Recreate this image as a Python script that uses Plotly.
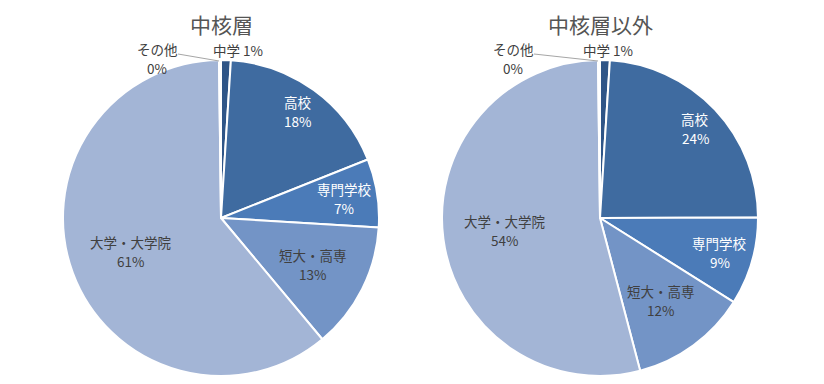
import math
import plotly.graph_objects as go

labels = ["中学", "高校", "専門学校", "短大・高専", "大学・大学院", "その他"]
core_values = [1, 18, 7, 13, 61, 0.2]
noncore_values = [1, 24, 9, 12, 54, 0.2]
titles = ["中核層", "中核層以外"]

# styles
colors = ["#2f5587", "#3f6ba0", "#4b7bb8", "#7394c6", "#a3b5d6", "#c9d4e8"]
text_colors = ["#404040", "#ffffff", "#ffffff", "#404040", "#404040", "#404040"]
label_radius = [None, 0.83, 0.79, 0.65, 0.61, None]   # fraction of radius for inside labels
FONT = "Noto Sans CJK JP"
W, H = 824, 384
domains_x = [[63 / W, 379 / W], [442 / W, 758 / W]]
domain_y = [1 - 376 / H, 1 - 60 / H]
chu_dx = [17, 8]          # 中学 label horizontal offset from pie centre (px)
other_dx = [-64, -87]     # その他 label horizontal offset from pie centre (px)
LINE_GAP = 9.5

fig = go.Figure()
for vals, dom in zip([core_values, noncore_values], domains_x):
    fig.add_trace(go.Pie(
        labels=labels, values=vals, sort=False, direction="clockwise", rotation=0,
        marker=dict(colors=colors, line=dict(color="white", width=2)),
        textinfo="none",
        domain=dict(x=dom, y=domain_y),
        showlegend=False, hoverinfo="label+percent",
    ))


def to_paper(px, py):
    return px / W, 1 - py / H


def two_line(top, bottom, px, py, color):
    x, y = to_paper(px, py)
    for txt, shift in ((top, LINE_GAP), (bottom, -LINE_GAP)):
        fig.add_annotation(text=txt, x=x, y=y, yshift=shift, xref="paper", yref="paper",
                           showarrow=False, xanchor="center", yanchor="middle",
                           font=dict(family=FONT, size=13.5, color=color))


for k, (vals, dom) in enumerate(zip([core_values, noncore_values], domains_x)):
    cx = (dom[0] + dom[1]) / 2 * W
    cy = (1 - (domain_y[0] + domain_y[1]) / 2) * H
    R = min((dom[1] - dom[0]) * W, (domain_y[1] - domain_y[0]) * H) / 2
    total = sum(vals)
    cum = 0.0
    for i, (lab, v) in enumerate(zip(labels, vals)):
        pct = round(v / total * 100)
        mid = (cum + v / 2) / total * 2 * math.pi
        cum += v
        if label_radius[i] is not None:
            r = label_radius[i] * R
            two_line(lab, f"{pct}%", cx + r * math.sin(mid), cy - r * math.cos(mid), text_colors[i])
        elif lab == "中学":
            x, y = to_paper(cx + chu_dx[k], cy - R - 10)
            fig.add_annotation(text=f"{lab} {pct}%", x=x, y=y, xref="paper", yref="paper",
                               showarrow=False, xanchor="center", yanchor="middle",
                               font=dict(family=FONT, size=13.5, color=text_colors[i]))
        else:
            two_line(lab, f"{pct}%", cx + other_dx[k], cy - R - 1, text_colors[i])
            x0, y0 = to_paper(cx + other_dx[k] + 21, cy - R - 6)
            x1, y1 = to_paper(cx - 2, cy - R + 1)
            fig.add_shape(type="line", x0=x0, y0=y0, x1=x1, y1=y1, xref="paper", yref="paper",
                          line=dict(color="#a6a6a6", width=1))

for t, dom in zip(titles, domains_x):
    fig.add_annotation(text=t, x=(dom[0] + dom[1]) / 2, y=1 - 24 / H, xref="paper", yref="paper",
                       xanchor="center", yanchor="middle", showarrow=False,
                       font=dict(family=FONT, size=21, color="#555555"))

fig.update_layout(width=W, height=H, margin=dict(l=0, r=0, t=0, b=0),
                  paper_bgcolor="white", plot_bgcolor="white")
fig.write_html("out.html", config={"displayModeBar": False},
               post_script="document.body.style.margin='0';")
